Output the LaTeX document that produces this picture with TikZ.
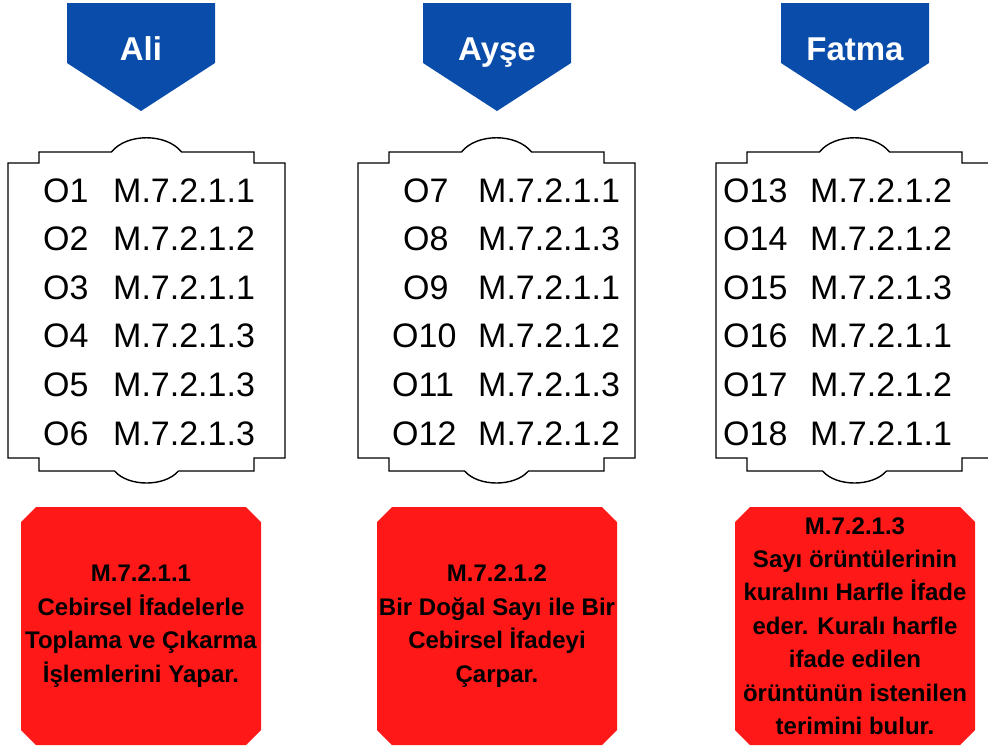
\documentclass[tikz,border=0pt]{standalone}
\usepackage{fontspec}
\setmainfont{Liberation Sans}
\definecolor{hblue}{RGB}{10,76,170}
\definecolor{gred}{RGB}{255,24,24}
\tikzset{
  tag/.style={fill=hblue},
  tagtext/.style={anchor=base, text=white, inner sep=0pt, font=\bfseries\fontsize{33}{40}\selectfont},
  plaque/.style={draw=black, line width=1.4pt, fill=white},
  code/.style={anchor=base west, inner sep=0pt, font=\fontsize{34}{40}\selectfont},
  goalbox/.style={fill=gred},
  goal/.style={inner sep=0pt, align=center, font=\bfseries\fontsize{24}{33.4}\selectfont}
}
\begin{document}
\begin{tikzpicture}[x=1pt,y=-1pt]
        \useasboundingbox (0,0) rectangle (988,748);
        % headers
        \foreach \cx/\who [count=\k] in {141/Ali,497/Ayşe,855/Fatma}{
            \fill[tag] (\cx-74,3) -- (\cx+74,3) -- (\cx+74,63) -- (\cx,111) -- (\cx-74,63) -- cycle;
            \node[tagtext] (head\k) at (\cx,60) {\who};
        }
        % plaques
        \foreach \cx in {146.5,496.5,854.5}{
            \draw[plaque] (\cx-138.5,163) -- ++(31,0) -- ++(0,-11) -- (\cx-35,152)
                .. controls (\cx-20,133) and (\cx+20,133) .. (\cx+35,152)
                -- (\cx+107.5,152) -- ++(0,11) -- ++(31,0) -- ++(0,295) -- ++(-31,0) -- ++(0,13)
                -- (\cx+32,471) .. controls (\cx+18,487) and (\cx-18,487) .. (\cx-32,471)
                -- (\cx-107.5,471) -- ++(0,-13) -- ++(-31,0) -- cycle;
        }
        \foreach \o/\m [count=\i] in {O1/M.7.2.1.1,O2/M.7.2.1.2,O3/M.7.2.1.1,O4/M.7.2.1.3,O5/M.7.2.1.3,O6/M.7.2.1.3}{
            \node[code] (o\i) at (43,{153.4+48.6*\i}) {\o};
            \node[code] (m\i) at (113,{153.4+48.6*\i}) {\m};
        }
        \foreach \o/\ox/\m [count=\i from 7] in {O7/403/M.7.2.1.1,O8/403/M.7.2.1.3,O9/403/M.7.2.1.1,O10/392/M.7.2.1.2,O11/392/M.7.2.1.3,O12/392/M.7.2.1.2}{
            \node[code] (o\i) at (\ox,{202+48.6*(\i-7)}) {\o};
            \node[code] (m\i) at (478,{202+48.6*(\i-7)}) {\m};
        }
        \foreach \o/\m [count=\i from 13] in {O13/M.7.2.1.2,O14/M.7.2.1.2,O15/M.7.2.1.3,O16/M.7.2.1.1,O17/M.7.2.1.2,O18/M.7.2.1.1}{
            \node[code] (o\i) at (723,{202+48.6*(\i-13)}) {\o};
            \node[code] (m\i) at (810,{202+48.6*(\i-13)}) {\m};
        }
        % outcomes
        \foreach \cx in {141,497,855}{
            \fill[goalbox] (\cx-105,507) -- (\cx+105,507) -- (\cx+120,522) -- (\cx+120,730)
                -- (\cx+105,745) -- (\cx-105,745) -- (\cx-120,730) -- (\cx-120,522) -- cycle;
        }
        \node[goal] (goal1) at (141,626) {M.7.2.1.1\\Cebirsel İfadelerle\\Toplama ve Çıkarma\\İşlemlerini Yapar.};
        \node[goal] (goal2) at (497,626) {M.7.2.1.2\\Bir Doğal Sayı ile Bir\\Cebirsel İfadeyi\\Çarpar.};
        \node[goal] (goal3) at (855,626) {M.7.2.1.3\\Sayı örüntülerinin\\kuralını Harfle İfade\\eder. Kuralı harfle\\ifade edilen\\örüntünün istenilen\\terimini bulur.};
\end{tikzpicture}
\end{document}
